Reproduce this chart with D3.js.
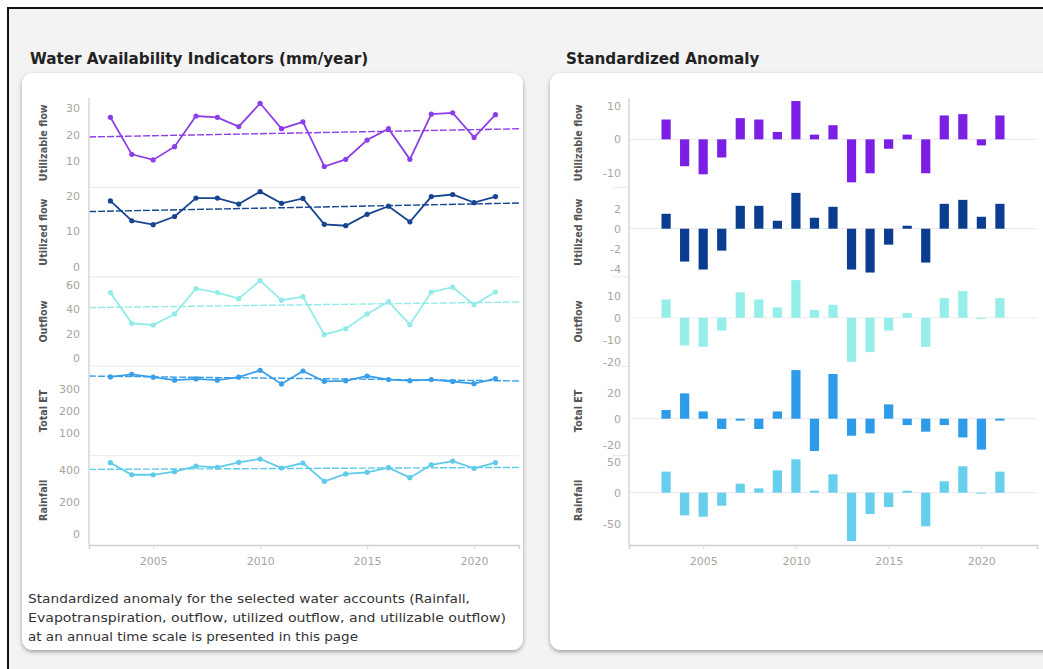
<!DOCTYPE html>
<html>
<head>
<meta charset="utf-8">
<script src="https://cdn.jsdelivr.net/npm/d3@7"></script>
<style>
  body { margin: 0; background: #fff; }
  text { font-family: "DejaVu Sans", sans-serif; }
</style>
</head>
<body>
<svg id="chart" width="1043" height="669"></svg>
<script>
// years shown on both charts
const years = [2003, 2004, 2005, 2006, 2007, 2008, 2009, 2010, 2011, 2012,
               2013, 2014, 2015, 2016, 2017, 2018, 2019, 2020, 2021];
const xTicks = [2005, 2010, 2015, 2020];

const seriesNames = ["Utilizable flow", "Utilized flow", "Outflow", "Total ET", "Rainfall"];
const seriesColors = ["#7b1fe4", "#0a3d8f", "#95eeea", "#2e9be8", "#66cfee"];
const lineColors = ["#8c3fe6", "#17458f", "#92ebe8", "#3a9fe8", "#5fcbea"];

// mm/year values (left chart)
const utilizableFlow = [26.5, 12.5, 10.4, 15.4, 27.0, 26.5, 23.0, 31.8, 22.2, 24.8,
                        7.9, 10.6, 17.9, 22.2, 10.6, 27.7, 28.2, 18.9, 27.5];
const utilizedFlow = [18.6, 13.0, 11.9, 14.2, 19.4, 19.4, 17.7, 21.2, 17.9, 19.3,
                      12.0, 11.6, 14.8, 17.1, 12.7, 19.8, 20.4, 18.1, 19.8];
const outflow = [53.4, 28.4, 27.0, 36.0, 56.6, 53.4, 48.5, 63.2, 47.2, 50.1,
                 19.1, 24.0, 36.0, 46.0, 27.3, 53.9, 57.8, 43.6, 53.9];
const totalET = [355, 367, 354, 340, 346, 340, 354, 385, 323, 382,
                 335, 337, 359, 343, 338, 343, 334, 324, 347];
const rainfall = [445, 370, 370, 389, 424, 416, 447, 468, 412, 443,
                  329, 375, 385, 414, 352, 432, 455, 410, 445];

// standardized anomaly values (right chart)
const anomUtilizable = [5.9, -8.0, -10.4, -5.4, 6.3, 5.9, 2.2, 11.4, 1.4, 4.2,
                        -12.8, -10.1, -2.8, 1.4, -10.1, 7.1, 7.5, -1.8, 7.1];
const anomUtilized = [1.5, -3.3, -4.1, -2.2, 2.3, 2.3, 0.8, 3.6, 1.1, 2.2,
                      -4.1, -4.4, -1.6, 0.3, -3.4, 2.5, 2.9, 1.2, 2.5];
const anomOutflow = [8.3, -12.6, -13.2, -5.8, 11.5, 8.3, 4.7, 17.1, 3.5, 5.9,
                     -20.0, -15.6, -5.8, 2.1, -13.2, 8.9, 12.1, -0.5, 8.9];
const anomET = [6.7, 19.5, 5.6, -7.9, -1.5, -7.9, 5.6, 37.4, -24.9, 34.4,
                -13.1, -11.3, 11.0, -4.9, -10.0, -4.9, -14.4, -23.8, -1.5];
const anomRainfall = [33.9, -36.6, -38.7, -21.0, 14.5, 7.0, 36.0, 53.8, 3.2, 29.6,
                      -78.0, -34.4, -23.1, 3.2, -54.3, 18.3, 42.5, -1.5, 33.9];

const lineSeries = [utilizableFlow, utilizedFlow, outflow, totalET, rainfall];
const anomSeries = [anomUtilizable, anomUtilized, anomOutflow, anomET, anomRainfall];

const leftTicks = [[10, 20, 30], [0, 10, 20], [0, 20, 40, 60], [100, 200, 300], [0, 200, 400]];
const rightTicks = [[-10, 0, 10], [-4, -2, 0, 2], [-20, -10, 0, 10], [-20, 0, 20], [-50, 0, 50]];

// axis ranges per row
const leftDomains = [[0, 33.8], [-2.8, 22.4], [-6.6, 66.3], [-5, 404], [-66, 489]];
const rightDomains = [[-14.3, 12.3], [-4.83, 4.15], [-22, 18.6], [-28.4, 40.4], [-84.4, 59.8]];

const noteLines = ["Standardized anomaly for the selected water accounts (Rainfall,",
    "Evapotranspiration, outflow, utilized outflow, and utilizable outflow)",
    "at an annual time scale is presented in this page"];

const svg = d3.select("#chart");

// page background + frame
svg.append("rect").attr("x", 8).attr("y", 8).attr("width", 1050).attr("height", 680)
    .attr("fill", "#f3f3f3").attr("stroke", "#111").attr("stroke-width", 2);

const defs = svg.append("defs");
const shadow = defs.append("filter").attr("id", "shadow")
    .attr("x", "-5%").attr("y", "-5%").attr("width", "110%").attr("height", "112%");
shadow.append("feDropShadow").attr("dx", 0).attr("dy", 2).attr("stdDeviation", 2)
    .attr("flood-color", "#000").attr("flood-opacity", 0.35);

// cards
svg.append("rect").attr("x", 22).attr("y", 73).attr("width", 501).attr("height", 577)
    .attr("rx", 11).attr("fill", "#fff").attr("filter", "url(#shadow)");
svg.append("rect").attr("x", 550).attr("y", 73).attr("width", 520).attr("height", 577)
    .attr("rx", 11).attr("fill", "#fff").attr("filter", "url(#shadow)");

// titles
svg.append("text").attr("x", 30).attr("y", 64).text("Water Availability Indicators (mm/year)")
    .attr("font-size", 15.2).attr("font-weight", "bold").attr("fill", "#222");
svg.append("text").attr("x", 566).attr("y", 64).text("Standardized Anomaly")
    .attr("font-size", 15.2).attr("font-weight", "bold").attr("fill", "#222");

// footnote (widths matched to the original lines)
const noteWidths = [442, 478, 330];
noteLines.forEach((t, i) => {
    svg.append("text").attr("x", 28).attr("y", 603 + i * 19)
        .attr("font-size", 12.8).attr("fill", "#333")
        .attr("textLength", noteWidths[i]).attr("lengthAdjust", "spacingAndGlyphs")
        .text(t);
});

const plotTop = 98, plotBottom = 545;
const rowH = (plotBottom - plotTop) / 5;
const tickColor = "#aaa39e";
const fmt = d => String(d);

// scales for x
const xL = d3.scaleLinear().domain([2002, 2022.1]).range([89, 519]);
const xR = d3.scaleLinear().domain([2001, 2023]).range([629, 1037]);

const left = svg.append("g");
const right = svg.append("g");

function trend(vals) {
    const mx = d3.mean(years), my = d3.mean(vals);
    const slope = d3.sum(years, (x, i) => (x - mx) * (vals[i] - my)) / d3.sum(years, x => (x - mx) ** 2);
    return x => my + slope * (x - mx);
}

seriesNames.forEach((name, i) => {
    const y0 = plotTop + i * rowH, y1 = y0 + rowH;

    // ---- left: line chart
    const yL = d3.scaleLinear().domain(leftDomains[i]).range([y1, y0]);
    if (i > 0) {
        left.append("line").attr("x1", 89).attr("x2", 519).attr("y1", y0).attr("y2", y0)
            .attr("stroke", "#ececec").attr("stroke-width", 1.2);
    }
    const gy = left.append("g").attr("transform", "translate(89,0)")
        .call(d3.axisLeft(yL).tickValues(leftTicks[i]).tickSize(0).tickPadding(9).tickFormat(fmt));
    gy.select(".domain").remove();
    gy.selectAll("text").attr("fill", tickColor).attr("font-size", 11)
        .attr("font-family", "DejaVu Sans");

    left.append("text").attr("transform", `translate(47,${(y0 + y1) / 2}) rotate(-90)`)
        .attr("text-anchor", "middle").attr("font-size", 9.6).attr("fill", "#555")
        .attr("font-weight", "bold").text(name);

    const pts = years.map((yr, j) => ({ year: yr, value: lineSeries[i][j] }));
    const tr = trend(lineSeries[i]);
    left.append("line")
        .attr("x1", xL(2002)).attr("x2", xL(2022.1))
        .attr("y1", yL(tr(2002))).attr("y2", yL(tr(2022.1)))
        .attr("stroke", lineColors[i]).attr("stroke-width", 1.4)
        .attr("stroke-dasharray", "7,2");
    left.append("path").datum(pts)
        .attr("d", d3.line().x(d => xL(d.year)).y(d => yL(d.value)))
        .attr("fill", "none").attr("stroke", lineColors[i]).attr("stroke-width", 1.8);
    left.selectAll(null).data(pts).join("circle")
        .attr("cx", d => xL(d.year)).attr("cy", d => yL(d.value)).attr("r", 2.6)
        .attr("fill", lineColors[i]);

    // ---- right: bar chart
    const yR = d3.scaleLinear().domain(rightDomains[i]).range([y1, y0]);
    if (i > 0) {
        right.append("line").attr("x1", 613).attr("x2", 629).attr("y1", y0).attr("y2", y0)
            .attr("stroke", "#ececec").attr("stroke-width", 1.2);
    }
    right.append("line").attr("x1", 629).attr("x2", 1037).attr("y1", yR(0)).attr("y2", yR(0))
        .attr("stroke", "#ededed").attr("stroke-width", 1.2);
    const gr = right.append("g").attr("transform", "translate(629,0)")
        .call(d3.axisLeft(yR).tickValues(rightTicks[i]).tickSize(0).tickPadding(8).tickFormat(fmt));
    gr.select(".domain").remove();
    gr.selectAll("text").attr("fill", tickColor).attr("font-size", 11)
        .attr("font-family", "DejaVu Sans");

    right.append("text").attr("transform", `translate(582,${(y0 + y1) / 2}) rotate(-90)`)
        .attr("text-anchor", "middle").attr("font-size", 9.6).attr("fill", "#555")
        .attr("font-weight", "bold").text(name);

    const bars = years.map((yr, j) => ({ year: yr, value: anomSeries[i][j] }));
    right.selectAll(null).data(bars).join("rect")
        .attr("x", d => xR(d.year) - 4.6).attr("width", 9.2)
        .attr("y", d => yR(Math.max(0, d.value)))
        .attr("height", d => Math.abs(yR(d.value) - yR(0)))
        .attr("fill", seriesColors[i]);
});

// axis lines
left.append("line").attr("x1", 89).attr("x2", 89).attr("y1", plotTop).attr("y2", plotBottom)
    .attr("stroke", "#d6d6d6").attr("stroke-width", 1.5);
right.append("line").attr("x1", 629).attr("x2", 629).attr("y1", plotTop).attr("y2", plotBottom)
    .attr("stroke", "#d6d6d6").attr("stroke-width", 1.5);

function xAxis(g, scale) {
    const ax = g.append("g").attr("transform", `translate(0,${plotBottom})`)
        .call(d3.axisBottom(scale).tickValues(xTicks).tickSize(4).tickPadding(8).tickFormat(fmt));
    ax.select(".domain").attr("stroke", "#d0d0d0").attr("stroke-width", 1.5);
    ax.selectAll(".tick line").attr("stroke", "#d6d6d6");
    ax.selectAll("text").attr("fill", tickColor).attr("font-size", 11)
        .attr("font-family", "DejaVu Sans");
}
xAxis(left, xL);
xAxis(right, xR);
</script>
</body>
</html>
